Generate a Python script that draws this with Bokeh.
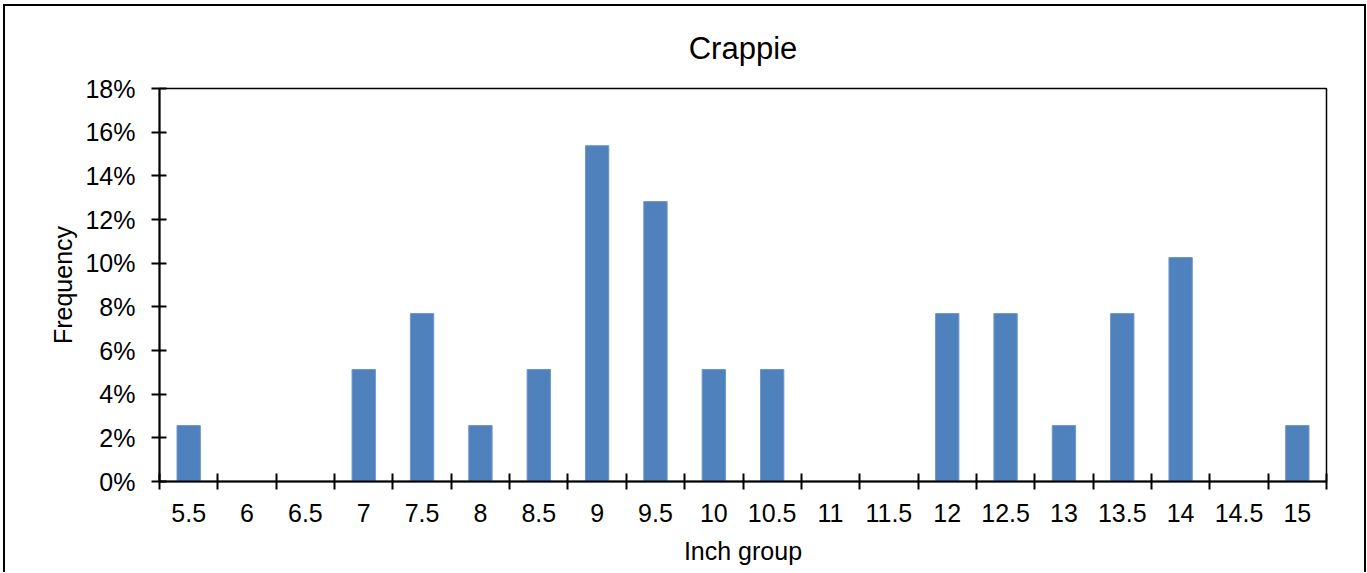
from bokeh.plotting import figure
from bokeh.models import FixedTicker, NumeralTickFormatter, ColumnDataSource, Range1d
from bokeh.embed import file_html
from bokeh.resources import INLINE

# ---- data ----
categories = ["5.5", "6", "6.5", "7", "7.5", "8", "8.5", "9", "9.5", "10",
              "10.5", "11", "11.5", "12", "12.5", "13", "13.5", "14", "14.5", "15"]
frequency = [0.0256, 0.0, 0.0, 0.0513, 0.0769, 0.0256, 0.0513, 0.1538, 0.1282, 0.0513,
             0.0513, 0.0, 0.0, 0.0769, 0.0769, 0.0256, 0.0769, 0.1026, 0.0, 0.0256]
y_ticks = [0.0, 0.02, 0.04, 0.06, 0.08, 0.10, 0.12, 0.14, 0.16, 0.18]

FONT = "Liberation Sans"

centers = list(range(len(categories)))
boundaries = [i - 0.5 for i in range(len(categories) + 1)]

source = ColumnDataSource(data=dict(x=centers, top=frequency, cat=categories))

p = figure(width=1363, height=568, output_backend="svg", toolbar_location=None,
           x_range=Range1d(-0.5, len(categories) - 0.5), y_range=Range1d(0, 0.18),
           min_border_left=154, min_border_right=42, min_border_top=82, min_border_bottom=93)

p.vbar(x="x", top="top", width=0.4, source=source, fill_color="#4F81BD",
       line_color="#6F97CA", line_width=1)

# title
p.title.text = "Crappie"
p.title.align = "center"
p.title.text_font = FONT
p.title.text_font_size = "31px"
p.title.text_font_style = "normal"
p.title.text_color = "black"
p.title.standoff = 45

# frame
p.outline_line_color = "black"
p.outline_line_width = 1.5
p.xgrid.visible = False
p.ygrid.visible = False
p.background_fill_color = "white"
p.border_fill_color = "white"

# x axis: labels at centers, tick marks at boundaries
xa = p.xaxis[0]
xa.ticker = FixedTicker(ticks=centers, minor_ticks=boundaries)
xa.major_label_overrides = {c: lab for c, lab in zip(centers, categories)}
xa.major_tick_in = 0
xa.major_tick_out = 0
xa.minor_tick_in = 8
xa.minor_tick_out = 8
xa.minor_tick_line_color = "black"
xa.minor_tick_line_width = 2
xa.axis_line_color = "black"
xa.axis_line_width = 2
xa.major_label_text_font = FONT
xa.major_label_text_font_size = "25px"
xa.major_label_text_color = "black"
xa.major_label_standoff = 14
xa.axis_label = "Inch group"
xa.axis_label_text_font = FONT
xa.axis_label_text_font_size = "25px"
xa.axis_label_text_font_style = "normal"
xa.axis_label_text_color = "black"
xa.axis_label_standoff = 12

# y axis
ya = p.yaxis[0]
ya.ticker = FixedTicker(ticks=y_ticks)
ya.formatter = NumeralTickFormatter(format="0%")
ya.major_tick_in = 7
ya.major_tick_out = 8
ya.major_tick_line_color = "black"
ya.major_tick_line_width = 2
ya.minor_tick_line_color = None
ya.axis_line_color = "black"
ya.axis_line_width = 2
ya.major_label_text_font = FONT
ya.major_label_text_font_size = "25px"
ya.major_label_text_color = "black"
ya.major_label_standoff = 16
ya.axis_label = "Frequency"
ya.axis_label_text_font = FONT
ya.axis_label_text_font_size = "25px"
ya.axis_label_text_font_style = "normal"
ya.axis_label_text_color = "black"
ya.axis_label_standoff = 5

p.styles = {"border-top": "2px solid black", "border-left": "2px solid black",
            "border-right": "2px solid black", "box-sizing": "border-box",
            "margin-left": "3px", "margin-top": "4px"}

open("out.html", "w").write(file_html(p, INLINE))
